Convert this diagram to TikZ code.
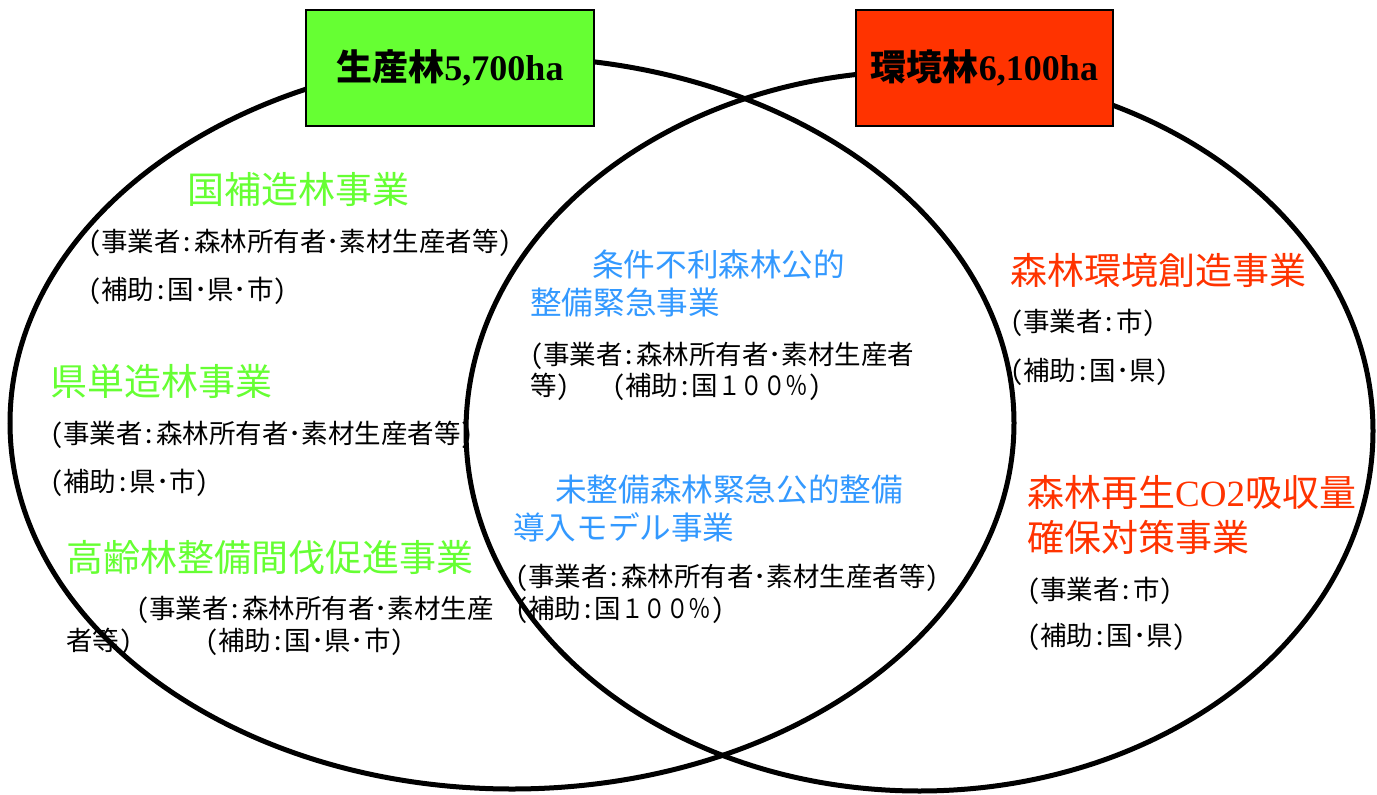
\documentclass[tikz,border=0pt]{standalone}
\usepackage{fontspec}
\setmainfont{Liberation Serif}
\newfontfamily\jp{Noto Sans CJK JP}
\newfontfamily\jph[RawFeature=+hwid]{Noto Sans CJK JP}
\definecolor{lgreen}{HTML}{66FF33}
\definecolor{lred}{HTML}{FF3300}
\definecolor{lblue}{HTML}{3399FF}
\newcommand{\hundred}{{\jp\scalebox{0.85}[1]{１００％}}}
\begin{document}
\begin{tikzpicture}[x=1pt,y=-1pt,
  ring/.style={draw=black, line width=5pt},
  titlebox/.style={draw=black, line width=1.5pt, minimum height=116pt, inner sep=0pt,
    font=\fontsize{36}{40}\selectfont\bfseries},
  gh/.style={anchor=west, inner sep=0pt, text=lgreen, font=\jp\fontsize{37}{40}\selectfont},
  rh/.style={anchor=west, inner sep=0pt, text=lred, font=\jp\fontsize{37}{40}\selectfont},
  bh/.style={anchor=west, inner sep=0pt, text=lblue, font=\jp\fontsize{31.6}{34}\selectfont},
  bt/.style={anchor=west, inner sep=0pt, text=black, font=\jph\fontsize{26.5}{30}\selectfont}]
\useasboundingbox (0,0) rectangle (1377,795);
\fill[white] (0,0) rectangle (1377,795);

% left region
\node[gh] (g1) at (187,189) {国補造林事業};
\node[bt] (g1a) at (88,243) {（事業者：森林所有者･素材生産者等）};
\node[bt] (g1b) at (88,291) {（補助：国･県･市）};
\node[gh] (g2) at (50,381) {県単造林事業};
\node[bt] (g2a) at (50,435) {（事業者：森林所有者･素材生産者等）};
\node[bt] (g2b) at (50,483) {（補助：県･市）};
\node[gh] (g3) at (66,557) {高齢林整備間伐促進事業};
\node[bt] (g3a) at (136,610) {（事業者：森林所有者･素材生産};
\node[bt] (g3b) at (66,642) {者等）};
\node[bt] (g3c) at (205,642) {（補助：国･県･市）};

% middle region
\node[bh] (b1) at (592,265) {条件不利森林公的};
\node[bh] (b1b) at (530,302) {整備緊急事業};
\node[bt] (b1c) at (530,356) {（事業者：森林所有者･素材生産者};
\node[bt] (b1d) at (530,387) {等）};
\node[bt] (b1e) at (612,387) {（補助：国\hundred）};
\node[bh] (b2) at (555,490) {未整備森林緊急公的整備};
\node[bh] (b2b) at (513,527) {導入モデル事業};
\node[bt] (b2c) at (515,578) {（事業者：森林所有者･素材生産者等）};
\node[bt] (b2d) at (515,610) {（補助：国\hundred）};

% right region
\node[rh] (r1) at (1010,270) {森林環境創造事業};
\node[bt] (r1a) at (1010,323) {（事業者：市）};
\node[bt] (r1b) at (1010,372) {（補助：国･県）};
\node[rh] (r2) at (1027,492) {森林再生{\rmfamily CO2}吸収量};
\node[rh] (r2b) at (1027,537) {確保対策事業};
\node[bt] (r2c) at (1027,591) {（事業者：市）};
\node[bt] (r2d) at (1027,637) {（補助：国･県）};

% circles
\draw[ring] (512,423) ellipse [x radius=502, y radius=366];
\draw[ring] (919.5,431) ellipse [x radius=453.5, y radius=360];

% title boxes
\node[titlebox, fill=lgreen, minimum width=288pt] (t1) at (450,68) {{\jp\bfseries 生産林}5,700ha};
\node[titlebox, fill=lred, minimum width=257pt] (t2) at (984.5,68) {{\jp\bfseries 環境林}6,100ha};
\end{tikzpicture}
\end{document}
